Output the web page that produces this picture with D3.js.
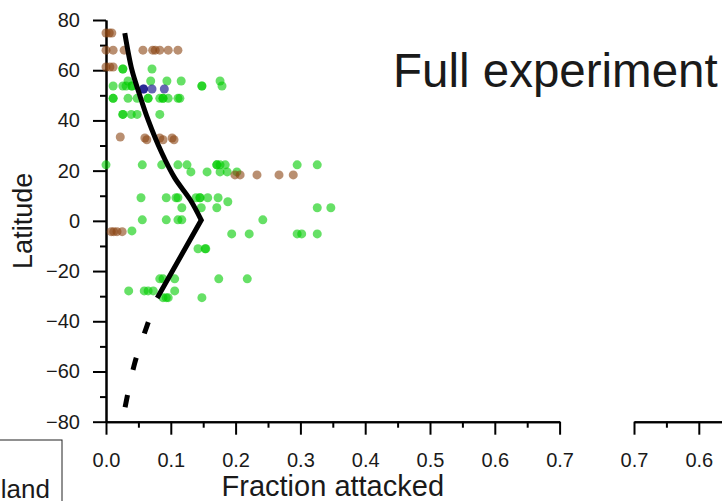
<!doctype html>
<html>
  <head>
    <meta charset="utf-8">
    <script src="https://cdnjs.cloudflare.com/ajax/libs/d3/7.8.5/d3.min.js"></script>
    <style>
      body { margin: 0; background: #fff; }
      svg { display: block; font-family: "Liberation Sans", Arial, sans-serif; }
    </style>
  </head>
  <body>
    <svg></svg>
    <script>
      var width = 722,
          height = 501;

      // points: fraction attacked vs latitude
      var greenFrac = [0.026,0.026,0.071,
        0.034,0.069,0.094,0.116,0.176,
        0.011,0.026,0.031,0.040,0.040,0.148,0.148,0.179,
        0.011,0.011,0.034,0.048,0.065,0.065,0.083,0.088,0.088,0.096,0.111,0.114,
        0.026,0.026,0.039,0.048,0.083,
        0.0,0.056,0.086,0.111,0.125,0.171,0.171,0.176,0.184,0.295,0.326,
        0.131,0.156,0.176,0.187,0.202,
        0.054,0.093,0.108,0.111,0.139,0.145,0.145,0.157,0.173,
        0.188,
        0.117,0.147,0.171,0.326,0.347,
        0.056,0.093,0.111,0.117,0.242,
        0.040,
        0.194,0.221,0.295,0.302,0.326,
        0.142,0.153,0.154,
        0.083,0.088,0.106,0.174,0.218,
        0.035,0.059,0.065,0.073,0.106,
        0.088,0.093,0.096,0.148];
      var greenLat = [60.5,60.5,60.5,
        55.7,55.7,55.7,55.7,55.7,
        53.7,53.7,53.7,53.7,53.7,53.7,53.7,53.7,
        48.8,48.8,48.8,48.8,48.8,48.8,48.8,48.8,48.8,48.8,48.8,48.8,
        42.4,42.4,42.4,42.4,42.4,
        22.3,22.3,22.3,22.3,22.3,22.3,22.3,22.3,22.3,22.3,22.3,
        19.5,19.5,19.5,19.5,19.5,
        9.2,9.2,9.2,9.2,9.2,9.2,9.2,9.2,9.2,
        7.6,
        5.2,5.2,5.2,5.2,5.2,
        0.4,0.4,0.4,0.4,0.4,
        -4.0,
        -5.2,-5.2,-5.2,-5.2,-5.2,
        -11.1,-11.1,-11.1,
        -23.1,-23.1,-23.1,-23.1,-23.1,
        -27.9,-27.9,-27.9,-27.9,-27.9,
        -30.6,-30.6,-30.6,-30.6];

      var brownFrac = [0.0,0.005,0.009,
        0.0,0.011,0.028,0.057,0.072,0.076,0.083,0.096,0.111,
        0.0,0.006,0.011,
        0.022,0.060,0.083,0.102,0.063,0.088,0.105,
        0.199,0.207,0.233,0.267,0.289,
        0.008,0.012,0.017,0.025];
      var brownLat = [74.8,74.8,74.8,
        68,68,68,68,68,68,68,68,68,
        61.3,61.3,61.3,
        33.4,33,33,33,32.3,32.3,32.3,
        18.3,18.3,18.3,18.3,18.3,
        -4.3,-4.3,-4.3,-4.3];

      var blueFrac = [0.058,0.058,0.071,0.090];
      var blueLat = [52.5,52.5,52.5,52.5];

      // fitted trend: curved part north of the peak, straight part south of it
      var trendFrac = [0.029,0.040,0.051,0.065,0.086,0.106,0.130,0.147];
      var trendLat = [74.8,60.1,50.9,40.2,27.1,17.1,8.4,0.3];
      var southFrac = [0.147,0.079];
      var southLat = [0.3,-30.7];
      var extraFrac = [0.079,0.063,0.044,0.029];
      var extraLat = [-30.7,-42,-57,-74.8];

      var latTicks = [-80,-60,-40,-20,0,20,40,60,80];
      var latMinor = [-70,-50,-30,-10,10,30,50,70];
      var fracTicks = [0,0.1,0.2,0.3,0.4,0.5,0.6,0.7];
      var fracMinor = [0.05,0.15,0.25,0.35,0.45,0.55,0.65];
      var fracTicks2 = [0.7,0.6];
      var fracMinor2 = [0.65];

      var svg = d3.select("svg").attr("width", width).attr("height", height);

      var x = d3.scaleLinear().domain([0, 0.7]).range([106, 559.6]);
      var y = d3.scaleLinear().domain([-80, 80]).range([421.7, 20]);
      // mirrored axis of the next panel
      var x2 = d3.scaleLinear().domain([0.7, 0]).range([634, 634 + 0.7 * 648]);

      function styleAxis(g) {
        g.selectAll("path, line").attr("stroke", "#000").attr("stroke-width", 2);
        g.selectAll("text").attr("fill", "#1a1a1a").attr("font-size", "20px")
          .attr("font-family", "Liberation Sans, Arial, sans-serif");
      }

      // y axis
      svg.append("g").attr("transform", "translate(106,0)")
        .call(d3.axisLeft(y).tickValues(latMinor).tickSize(6).tickSizeOuter(0).tickFormat(""))
        .call(styleAxis);
      svg.append("g").attr("transform", "translate(106,0)")
        .call(d3.axisLeft(y).tickValues(latTicks).tickSize(13).tickSizeOuter(0).tickPadding(13))
        .call(styleAxis);

      // x axis
      svg.append("g").attr("transform", "translate(0,421.7)")
        .call(d3.axisBottom(x).tickValues(fracMinor).tickSize(6).tickSizeOuter(0).tickFormat(""))
        .call(styleAxis);
      svg.append("g").attr("transform", "translate(0,421.7)")
        .call(d3.axisBottom(x).tickValues(fracTicks).tickSize(13).tickSizeOuter(0).tickPadding(18)
          .tickFormat(d3.format(".1f")))
        .call(styleAxis);

      // second panel's axis, cut off at the right
      svg.append("g").attr("transform", "translate(0,421.7)")
        .call(d3.axisBottom(x2).tickValues(fracMinor2).tickSize(6).tickSizeOuter(0).tickFormat(""))
        .call(styleAxis);
      svg.append("g").attr("transform", "translate(0,421.7)")
        .call(d3.axisBottom(x2).tickValues(fracTicks2).tickSize(13).tickSizeOuter(0).tickPadding(18)
          .tickFormat(d3.format(".1f")))
        .call(styleAxis);

      // points
      function drawPoints(fr, lat, colour) {
        svg.append("g").selectAll("circle").data(fr)
          .enter()
          .append("circle")
            .attr("cx", d => x(d))
            .attr("cy", (d, i) => y(lat[i]))
            .attr("r", 4.5)
            .attr("fill", colour)
            .attr("fill-opacity", 0.6);
      }
      drawPoints(greenFrac, greenLat, "#00cc00");
      drawPoints(brownFrac, brownLat, "#8b4513");
      drawPoints(blueFrac, blueLat, "#000080");

      // trend lines
      var curve = d3.line().x(d => x(d[0])).y(d => y(d[1])).curve(d3.curveCatmullRom);
      var north = curve(trendFrac.map((f, i) => [f, trendLat[i]]));
      var south = southFrac.slice(1).map((f, i) => "L" + x(f) + "," + y(southLat[i + 1])).join("");
      svg.append("path")
        .attr("d", north + south)
        .attr("fill", "none").attr("stroke", "#000").attr("stroke-width", 5)
        .attr("stroke-linejoin", "miter");
      var line = d3.line().x(d => x(d[0])).y(d => y(d[1])).curve(d3.curveCatmullRom);
      svg.append("path")
        .attr("d", line(extraFrac.map((f, i) => [f, extraLat[i]])))
        .attr("fill", "none").attr("stroke", "#000").attr("stroke-width", 5)
        .attr("stroke-dasharray", "12.5,25.5").attr("stroke-dashoffset", 12.5);

      // titles
      svg.append("text").text("Full experiment")
        .attr("x", 393).attr("y", 87)
        .attr("font-size", "47.5px").attr("fill", "#1a1a1a");
      svg.append("text").text("Fraction attacked")
        .attr("x", x(0.35)).attr("y", 496)
        .attr("text-anchor", "middle").attr("font-size", "29px").attr("fill", "#1a1a1a");
      svg.append("text").text("Latitude")
        .attr("transform", "translate(32," + y(0) + ") rotate(-90)")
        .attr("text-anchor", "middle").attr("font-size", "27px").attr("fill", "#1a1a1a");

      // legend box, mostly outside the frame
      svg.append("rect").attr("x", -100).attr("y", 440).attr("width", 162).attr("height", 100)
        .attr("fill", "#fff").attr("stroke", "#222").attr("stroke-width", 1);
      svg.append("text").text("Mainland")
        .attr("x", 50).attr("y", 498).attr("text-anchor", "end")
        .attr("font-size", "26px").attr("fill", "#1a1a1a");
    </script>
  </body>
</html>
